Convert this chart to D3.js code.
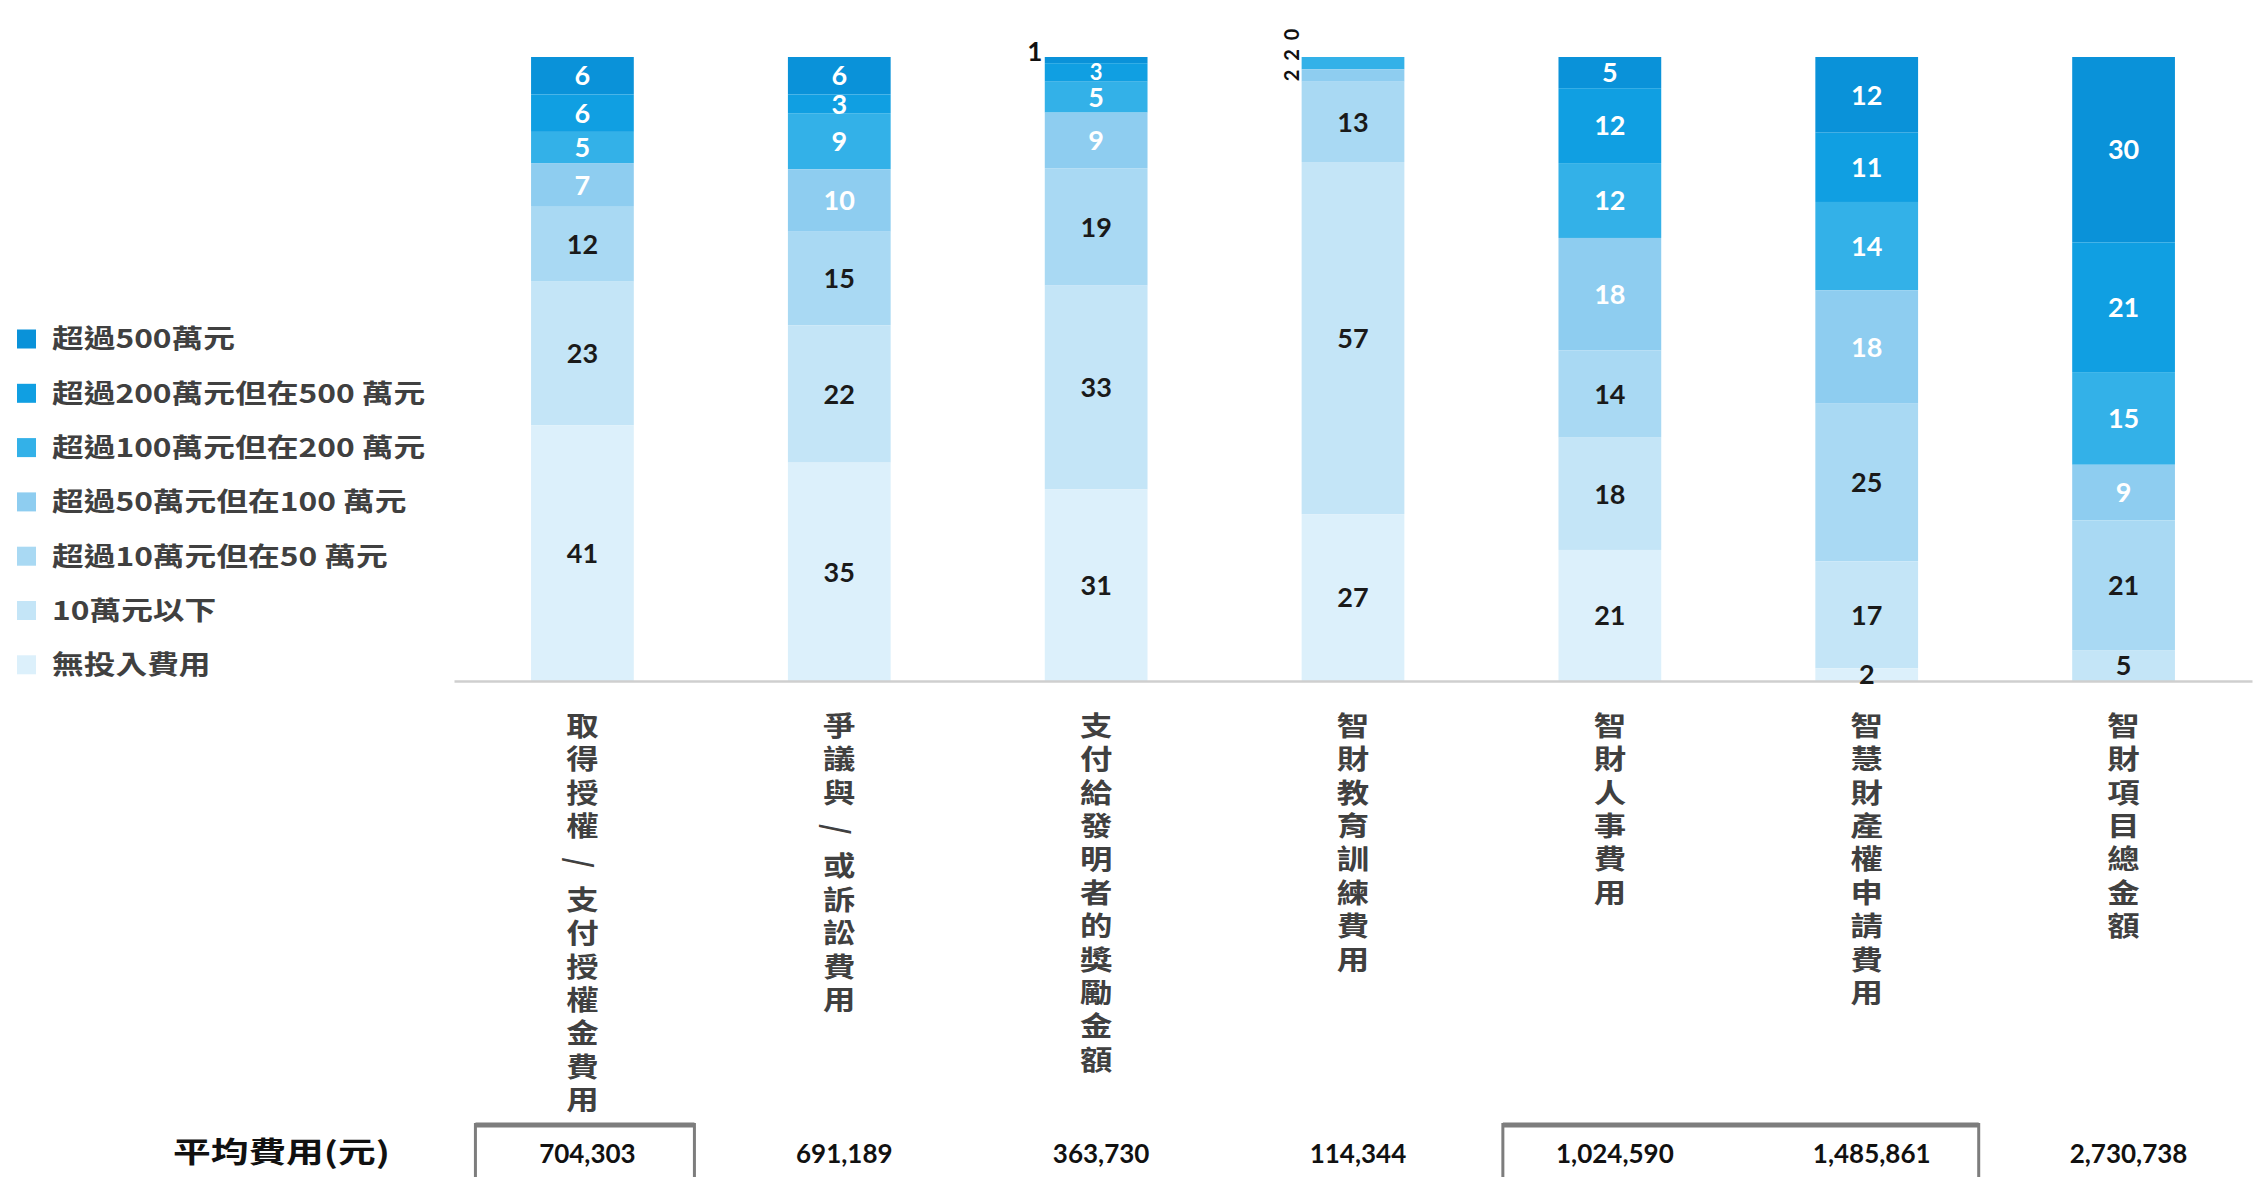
<!DOCTYPE html>
<html><head><meta charset="utf-8">
<script src="https://cdn.jsdelivr.net/npm/d3@7"></script>
<style>body{margin:0;background:#fff;} svg{display:block}</style>
</head><body>
<svg id="chart" width="2261" height="1177"></svg>
<script>
// ---- data ----
const categories = ["取得授權/支付授權金費用","爭議與/或訴訟費用","支付給發明者的獎勵金額","智財教育訓練費用","智財人事費用","智慧財產權申請費用","智財項目總金額"];
const seriesNames = ["超過500萬元","超過200萬元但在500 萬元","超過100萬元但在200 萬元","超過50萬元但在100 萬元","超過10萬元但在50 萬元","10萬元以下","無投入費用"];
const over500      = [6, 6, 1, 0, 5, 12, 30];
const from200to500 = [6, 3, 3, 0, 12, 11, 21];
const from100to200 = [5, 9, 5, 2, 12, 14, 15];
const from50to100  = [7, 10, 9, 2, 18, 18, 9];
const from10to50   = [12, 15, 19, 13, 14, 25, 21];
const under10      = [23, 22, 33, 57, 18, 17, 5];
const noSpend      = [41, 35, 31, 27, 21, 2, 0];
const avgCost = [704303, 691189, 363730, 114344, 1024590, 1485861, 2730738];
const avgLabel = "平均費用(元)";
const boxedGroups = [[categories[0]], [categories[4], categories[5]]];
const colors = ["#0a92d9", "#109fe2", "#33b1e8", "#8ecdf0", "#a9d9f3", "#c4e5f7", "#dcf0fb"];

// ---- table ----
const seriesValues = [over500, from200to500, from100to200, from50to100, from10to50, under10, noSpend];
const rows = categories.map((c, i) => {
  const r = {cat: c};
  seriesNames.forEach((s, k) => r[s] = seriesValues[k][i]);
  return r;
});
// first series on top: stack bottom-up in reverse key order
const stacked = d3.stack().keys(seriesNames).order(d3.stackOrderReverse).offset(d3.stackOffsetExpand)(rows);

const svg = d3.select("#chart");
const CJK = "'Noto Sans CJK TC','Noto Sans CJK SC',sans-serif";
const NUM = "Lato,'Open Sans',sans-serif";

const x = d3.scaleBand().domain(categories).range([454, 2252]).paddingInner(0.6).paddingOuter(0.3);
const y = d3.scaleLinear().domain([0, 1]).range([681, 57]);
const color = d3.scaleOrdinal().domain(seriesNames).range(colors);
const bw = x.bandwidth();

// bars
const layers = svg.append("g").selectAll("g").data(stacked).join("g").attr("fill", d => color(d.key));
layers.selectAll("rect").data(d => d).join("rect")
  .attr("x", d => x(d.data.cat)).attr("width", bw)
  .attr("y", d => y(d[1])).attr("height", d => Math.max(0, y(d[0]) - y(d[1])));

// baseline axis
const axis = svg.append("g").attr("transform", `translate(0,${y(0)})`)
  .call(d3.axisBottom(x).tickSize(0).tickSizeOuter(0).tickFormat(""));
axis.select(".domain").attr("stroke", "#cfcfcf").attr("stroke-width", 2.5);

// value labels
const labelG = svg.append("g").attr("font-family", NUM).attr("font-weight", 700);
const outside = {};
stacked.forEach(layer => {
  const si = seriesNames.indexOf(layer.key);
  layer.forEach(d => {
    const v = d.data[layer.key];
    if (v === 0 && si !== 0) return;
    const cx = x(d.data.cat) + bw / 2;
    const mid = (y(d[0]) + y(d[1])) / 2;
    const h = y(d[0]) - y(d[1]);
    if (si <= 3 && v <= 2) {
      (outside[d.data.cat] = outside[d.data.cat] || []).push({v, si, mid, top: y(1)});
      return;
    }
    labelG.append("text").attr("x", cx).attr("y", mid).attr("dy", "0.36em")
      .attr("text-anchor", "middle").attr("font-size", (si <= 3 && h < 18.6) ? 22 : 27)
      .attr("fill", si <= 3 ? "#ffffff" : "#1a1a1a").text(v);
  });
});
Object.entries(outside).forEach(([cat, list]) => {
  list.sort((a, b) => b.si - a.si);
  let prev = Infinity;
  const lx = x(cat) - 10;
  const rotate = list.length > 1;
  list.forEach(o => {
    let yy = Math.min(o.mid, prev - 20.5);
    if (o.si === 0) yy = Math.min(yy, o.top - 5);
    prev = yy;
    labelG.append("text")
      .attr("transform", `translate(${lx},${yy})` + (rotate ? " rotate(-90)" : ""))
      .attr("dy", "0.36em").attr("text-anchor", "middle")
      .attr("font-size", rotate ? 20 : 26).attr("fill", "#111").text(o.v);
  });
});

// category labels (vertical writing)
const catG = svg.append("g").attr("font-family", CJK).attr("font-weight", 700).attr("fill", "#404040");
categories.forEach(c => {
  const cx = x(c) + bw / 2;
  catG.append("text")
    .attr("transform", `translate(${cx},712) scale(1.2,1)`)
    .style("writing-mode", "vertical-rl")
    .style("letter-spacing", "6.4px")
    .attr("font-size", 27).text(c.replace("/", "\u2009/\u2009"));
});

// legend
const legG = svg.append("g").attr("font-family", CJK).attr("font-weight", 700);
seriesNames.forEach((s, i) => {
  const cy = 339 + i * 54.3;
  legG.append("rect").attr("x", 17).attr("y", cy - 9.5).attr("width", 19).attr("height", 19).attr("fill", color(s));
  legG.append("text").attr("transform", `translate(52,${cy}) scale(1.22,1)`)
    .attr("dy", "0.36em").attr("font-size", 26).attr("fill", "#404040").text(s);
});

// average cost row
const botG = svg.append("g");
botG.append("text").attr("transform", "translate(173,1153) scale(1.3,1)")
  .attr("dy", "0.36em").attr("font-family", CJK).attr("font-weight", 700)
  .attr("font-size", 29).attr("fill", "#111").text(avgLabel);
const fmt = d3.format(",");
categories.forEach((c, i) => {
  botG.append("text").attr("x", x(c) + bw / 2 + 5).attr("y", 1154).attr("dy", "0.36em")
    .attr("text-anchor", "middle").attr("font-family", NUM).attr("font-weight", 700)
    .attr("font-size", 26).attr("fill", "#111").text(fmt(avgCost[i]));
});
boxedGroups.forEach(g => {
  const l = x(g[0]) + bw / 2 - 107;
  const r = x(g[g.length - 1]) + bw / 2 + 112;
  botG.append("path").attr("d", `M${l},1190V1124.5H${r}V1190`)
    .attr("fill", "none").attr("stroke", "#7d7d7d").attr("stroke-width", 3);
  botG.append("line").attr("x1", l).attr("x2", r).attr("y1", 1125).attr("y2", 1125)
    .attr("stroke", "#7d7d7d").attr("stroke-width", 5);
});
</script>
</body></html>
